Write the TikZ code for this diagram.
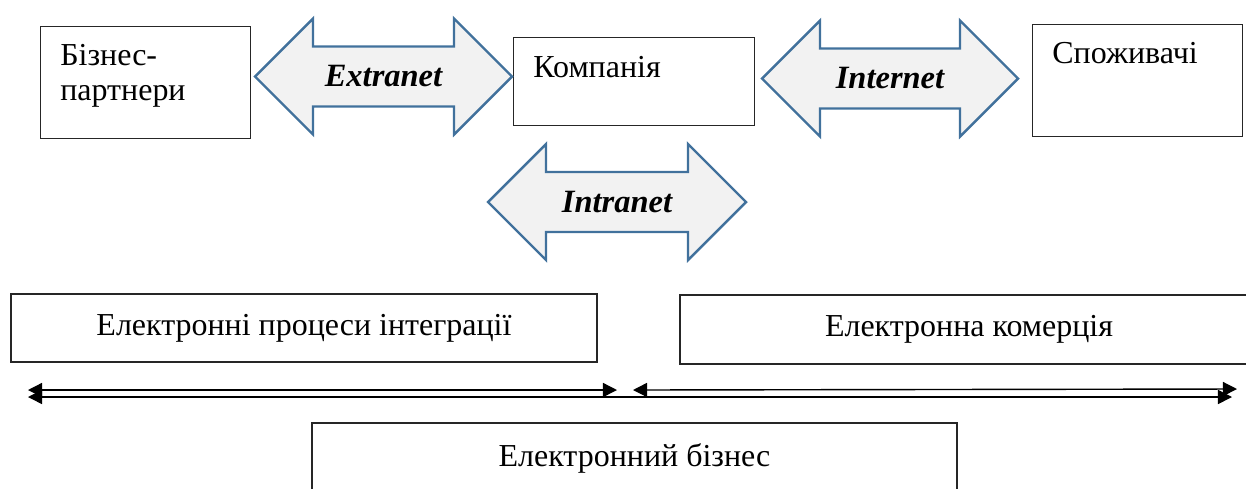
\documentclass[tikz,border=0pt]{standalone}
\usepackage{fontspec}
\setmainfont{Liberation Serif}
\usetikzlibrary{arrows.meta}
\definecolor{arrowblue}{HTML}{41719C}
\definecolor{arrowfill}{HTML}{F2F2F2}

\begin{document}
\begin{tikzpicture}[x=0.02cm, y=-0.02cm,
        box/.style={rectangle, draw=black!85, line width=0.8pt, fill=white, inner sep=0pt, font=\fontsize{18.2}{20}\selectfont},
        boxtext/.style={anchor=north west, inner sep=0pt, align=left, font=\fontsize{18.2}{20}\selectfont},
        blockarrow/.style={draw=arrowblue, fill=arrowfill, line width=1.4pt, line join=miter},
        netlabel/.style={inner sep=0pt, font=\fontsize{18.5}{20}\selectfont\bfseries\itshape},
        span/.style={{Triangle[length=8pt,width=8pt]}-{Triangle[length=8pt,width=8pt]}, line width=0.8pt}
    ]
        \useasboundingbox (0,0) rectangle (1246,488);

        % Top boxes
        \node[box, anchor=north west, minimum width=4.2cm, minimum height=2.24cm] (partners) at (40,26) {};
        \node[boxtext] (partnerstext) at (60,44) {Бізнес-\\партнери};
        \node[box, anchor=north west, minimum width=4.82cm, minimum height=1.76cm] (company) at (513,37) {};
        \node[boxtext] (companytext) at (533,56) {Компанія};
        \node[box, anchor=north west, minimum width=4.2cm, minimum height=2.24cm] (consumers) at (1032,24) {};
        \node[boxtext] (consumerstext) at (1052,42) {Споживачі};

        % Block arrows
        \foreach \cx/\cy/\hl/\name/\txt in {383.5/76.5/128.5/extranet/Extranet, 890/78.5/128/internet/Internet, 617/202/129/intranet/Intranet}{
            \draw[blockarrow] (\cx-\hl,\cy) -- ++(58,-58) -- ++(0,28) -- (\cx+\hl-58,\cy-30) -- ++(0,-28) -- (\cx+\hl,\cy)
                -- ++(-58,58) -- ++(0,-28) -- (\cx-\hl+58,\cy+30) -- ++(0,28) -- cycle;
            \node[netlabel] (\name) at (\cx,\cy) {\txt};
        }

        % Bottom boxes
        \node[box, minimum width=11.72cm, minimum height=1.36cm] (integration) at (304,328) {Електронні процеси інтеграції};
        \node[box, minimum width=11.56cm, minimum height=1.38cm] (commerce) at (969,329.5) {Електронна комерція};
        \node[box, minimum width=12.9cm, minimum height=1.4cm] (business) at (634.5,458) {Електронний бізнес};

        % Span arrows
        \coordinate (intL) at (28,390);
        \coordinate (intR) at (617,390);
        \coordinate (comL) at (633,390);
        \coordinate (comR) at (1237,389);
        \coordinate (busL) at (28,397);
        \coordinate (busR) at (1232,397);
        \draw[span] (intL) -- (intR);
        \draw[span] (comL) -- (comR);
        \draw[span] (busL) -- (busR);
    \end{tikzpicture}
\end{document}
